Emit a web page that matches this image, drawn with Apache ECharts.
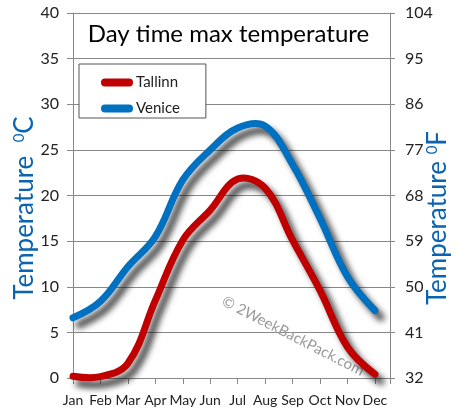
<!DOCTYPE html>
<html>
<head>
<meta charset="utf-8">
<script src="https://cdn.jsdelivr.net/npm/echarts@6/dist/echarts.min.js"></script>
<style>html,body{margin:0;padding:0;background:#fff;}#c{width:457px;height:419px;}</style>
</head>
<body>
<div id="c"></div>
<script>
const months = ['Jan','Feb','Mar','Apr','May','Jun','Jul','Aug','Sep','Oct','Nov','Dec'];
const tallinn = [0.2, 0.15, 1.6, 8.5, 15.1, 18.4, 21.8, 20.8, 15.1, 9.6, 3.4, 0.4];
const venice = [6.6, 8.4, 12.2, 15.5, 21.7, 25.0, 27.4, 27.6, 23.4, 17.5, 11.1, 7.4];
const seriesNames = ['Tallinn', 'Venice'];
const seriesColors = ['#c00000', '#0070c0'];
const titleText = 'Day time max temperature';

const FONT = 'Lato';
const chart = echarts.init(document.getElementById('c'), null, {renderer: 'canvas'});
const toPairs = arr => arr.map((v, i) => [i, v]);
const stadium = 'path://M4,0 L28,0 A4,4 0 0 1 28,8 L4,8 A4,4 0 0 1 4,0 Z';

function curveSeries(name, arr, color) {
  return {
    name: name, type: 'custom', coordinateSystem: 'cartesian2d',
    itemStyle: {color: color},
    encode: {x: 0, y: 1},
    data: toPairs(arr),
    renderItem: function (params, api) {
      if (params.dataIndex !== 0) return null;
      const pts = arr.map((v, i) => api.coord([i, v]));
      return {
        type: 'polyline',
        shape: {points: pts, smooth: 0.38},
        style: {
          fill: null, stroke: color, lineWidth: 7, lineCap: 'round', lineJoin: 'round',
          shadowColor: 'rgba(0,0,0,0.75)', shadowBlur: 6, shadowOffsetX: 6, shadowOffsetY: 7
        }
      };
    }
  };
}

chart.setOption({
  animation: false,
  backgroundColor: '#fff',
  textStyle: {fontFamily: FONT},
  title: {
    text: titleText, left: 'center', top: 17,
    textStyle: {fontFamily: FONT, fontSize: 24, fontWeight: 'normal', color: '#000'}
  },
  legend: {
    orient: 'vertical', left: 79, top: 64,
    padding: [11, 26, 2, 22], itemGap: 11,
    backgroundColor: '#fff', borderColor: '#555', borderWidth: 1,
    itemWidth: 32, itemHeight: 8,
    textStyle: {fontFamily: FONT, fontSize: 15, color: '#222', padding: [0,0,0,-2]},
    data: [{name: seriesNames[0], icon: stadium}, {name: seriesNames[1], icon: stadium}]
  },
  grid: {left: 73, right: 67, top: 13, bottom: 41, containLabel: false},
  xAxis: {
    type: 'value', min: 0, max: 11.55, interval: 1,
    axisLine: {show: true, lineStyle: {color: '#888', width: 1}},
    axisTick: {show: true, length: 6, lineStyle: {color: '#888'}},
    splitLine: {show: false},
    axisLabel: {
      fontFamily: FONT, fontSize: 14, color: '#222', margin: 15,
      formatter: v => (Number.isInteger(v) && months[v]) ? months[v] : ''
    }
  },
  yAxis: [{
    type: 'value', min: 0, max: 40, interval: 5, position: 'left',
    axisLine: {show: true, lineStyle: {color: '#888'}},
    axisTick: {show: true, length: 6, lineStyle: {color: '#888'}},
    splitLine: {show: true, lineStyle: {color: '#888', width: 1}},
    axisLabel: {fontFamily: FONT, fontSize: 16, color: '#222', margin: 14}
  }, {
    type: 'value', min: 32, max: 104, interval: 9, position: 'right',
    axisLine: {show: true, lineStyle: {color: '#888'}},
    axisTick: {show: true, length: 5, lineStyle: {color: '#888'}},
    splitLine: {show: false},
    axisLabel: {fontFamily: FONT, fontSize: 16, color: '#222', margin: 15}
  }],
  graphic: [{
    type: 'text', x: 25, y: 208, rotation: Math.PI / 2,
    style: {
      text: 'Temperature  {s|0}C', fontFamily: FONT, fontSize: 26, fill: '#0b64b0',
      align: 'center', verticalAlign: 'middle',
      rich: {s: {fontSize: 15, fontFamily: FONT, fill: '#0b64b0', verticalAlign: 'top', padding: [0,0,10,0]}}
    }
  }, {
    type: 'text', x: 438, y: 218, rotation: Math.PI / 2,
    style: {
      text: 'Temperature {s|0}F', fontFamily: FONT, fontSize: 26, fill: '#0b64b0',
      align: 'center', verticalAlign: 'middle',
      rich: {s: {fontSize: 15, fontFamily: FONT, fill: '#0b64b0', verticalAlign: 'top', padding: [0,0,10,0]}}
    }
  }, {
    type: 'text', x: 293, y: 336, rotation: -27 * Math.PI / 180, z: 1,
    style: {
      text: '© 2WeekBackPack.com', fontFamily: FONT, fontSize: 15, fill: '#9a9a9a',
      align: 'center', verticalAlign: 'middle'
    }
  }],
  series: [
    curveSeries(seriesNames[0], tallinn, seriesColors[0]),
    curveSeries(seriesNames[1], venice, seriesColors[1])
  ]
});
</script>
</body>
</html>
